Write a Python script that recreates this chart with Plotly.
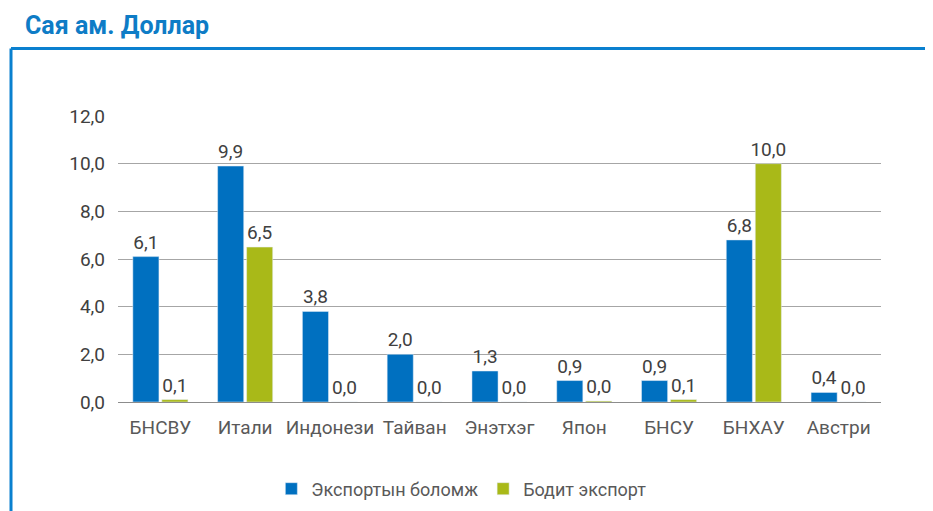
import plotly.graph_objects as go

categories = ["БНСВУ", "Итали", "Индонези", "Тайван", "Энэтхэг", "Япон", "БНСУ", "БНХАУ", "Австри"]
export_potential = [6.1, 9.9, 3.8, 2.0, 1.3, 0.9, 0.9, 6.8, 0.4]
actual_export = [0.1, 6.5, 0.0, 0.0, 0.0, 0.04, 0.1, 10.0, 0.0]
y_ticks = [0, 2, 4, 6, 8, 10, 12]
y_tick_labels = ["0,0", "2,0", "4,0", "6,0", "8,0", "10,0", "12,0"]

BLUE = "#0070C0"
GREEN = "#A9B918"
TXT = "#404040"
FONT = "Roboto"
FS = 19

fig = go.Figure()
for name, vals, col in [("Экспортын боломж", export_potential, BLUE),
                        ("Бодит экспорт", actual_export, GREEN)]:
    fig.add_trace(go.Bar(
        x=categories, y=vals, name=name,
        marker=dict(color=col),
        texttemplate="%{y:.1f}", textposition="outside", cliponaxis=False,
        constraintext="none",
        textfont=dict(family=FONT, size=FS, color=TXT),
    ))

# page body has an 8px offset
OFF = 8
W, H = 933 - OFF, 511 - OFF
L, R, T = 118 - OFF, 52, 116 - OFF
ph = 286
B = H - T - ph
pw = W - L - R
fx = (11 - OFF - L) / pw
fy = 1 + (T - (48.5 - OFF)) / ph
fy_bottom = -(B + 20) / ph
fx_right = 1 + (R + 20) / pw

fig.update_layout(
    width=W, height=H,
    margin=dict(l=L, r=R, t=T, b=B, autoexpand=False),
    paper_bgcolor="white", plot_bgcolor="white",
    separators=",.",
    barmode="group", bargap=0.316, bargroupgap=0.1,
    font=dict(family=FONT, size=FS, color=TXT),
    showlegend=True,
    legend=dict(orientation="h", x=0.45, xanchor="center",
                yref="container", y=1 - (489 - OFF) / H, yanchor="middle",
                font=dict(family=FONT, size=18, color="#595959"),
                itemwidth=30, traceorder="normal"),
    xaxis=dict(showgrid=False, showline=True, linecolor="#8C8C8C", linewidth=1,
               ticks="", ticklabelstandoff=8, automargin=False,
               tickfont=dict(family=FONT, size=FS, color="#595959")),
    yaxis=dict(range=[0, 12], tickvals=y_ticks, ticktext=y_tick_labels,
               showgrid=True, gridcolor="#A6A6A6", gridwidth=1, zeroline=False,
               showline=False, ticks="", ticklabelstandoff=12, automargin=False,
               tickfont=dict(family=FONT, size=FS, color=TXT)),
    title=dict(text="<b>Сая ам. Доллар</b>", x=(25 - OFF) / W, xanchor="left",
               y=1 - (25 - OFF) / H, yanchor="middle",
               font=dict(family=FONT, size=25, color="#0E7CC6")),
    shapes=[
        dict(type="line", xref="paper", yref="paper", x0=fx, x1=fx, y0=fy_bottom, y1=fy,
             line=dict(color="#0A80CF", width=3)),
        dict(type="line", xref="paper", yref="paper", x0=fx, x1=fx_right, y0=fy, y1=fy,
             line=dict(color="#0A80CF", width=3)),
    ],
)

fig.write_html("out.html")
